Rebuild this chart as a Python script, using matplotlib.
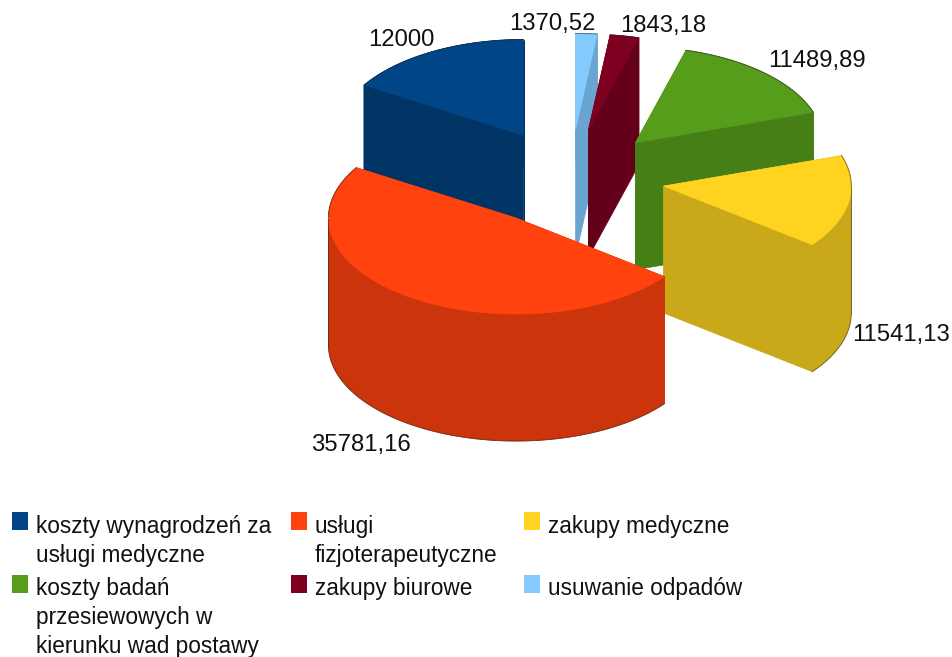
import numpy as np
import matplotlib
matplotlib.use("Agg")
import matplotlib.pyplot as plt
from matplotlib.patches import Polygon, Rectangle

plt.rcParams["font.family"] = ["Liberation Sans", "DejaVu Sans"]

names = ["koszty wynagrodzeń za\nusługi medyczne", "usługi\nfizjoterapeutyczne", "zakupy medyczne",
         "koszty badań\nprzesiewowych w\nkierunku wad postawy", "zakupy biurowe", "usuwanie odpadów"]
values = [12000, 35781.16, 11541.13, 11489.89, 1843.18, 1370.52]
labels = ["12000", "35781,16", "11541,13", "11489,89", "1843,18", "1370,52"]
top_colors = ["#004586", "#ff420e", "#ffd320", "#579d1c", "#7e0021", "#83caff"]
wall_colors = ["#003465", "#cc340b", "#c9a91a", "#477f17", "#65001a", "#6aa4d0"]

# projection of the tilted pie, in pixels
cx, cy = 570, 178
rx, ry = 187.5, 96
depth = 127
explode = 0.507
edge = dict(color="#222222", lw=0.7, alpha=0.5)


def draw_slice(ax, a1, a2, top, wall):
    mid = (a1 + a2) / 2
    arc = np.linspace(a1, a2, 120)
    x0 = cx + rx * explode * np.cos(mid)
    y0 = cy - ry * explode * np.sin(mid)
    tx = x0 + rx * np.cos(arc)
    ty = y0 - ry * np.sin(arc)
    # radial walls
    for k in [0, -1]:
        ax.add_patch(Polygon(np.c_[[x0, tx[k], tx[k], x0], [y0, ty[k], ty[k] + depth, y0 + depth]],
                             fc=wall, ec=wall, lw=0.5))
    # rim, split where the arc turns back so each polygon stays simple
    turns = np.where(np.diff(np.sign(np.diff(tx))) != 0)[0] + 1
    for part in np.split(np.arange(len(arc)), turns):
        part = np.r_[part, min(part[-1] + 1, len(arc) - 1)]
        ax.add_patch(Polygon(np.c_[np.r_[tx[part], tx[part][::-1]], np.r_[ty[part], ty[part][::-1] + depth]],
                             fc=wall, ec=wall, lw=0.5))
    ax.add_patch(Polygon(np.c_[np.r_[x0, tx], np.r_[y0, ty]], fc=top, ec=top, lw=0.5))
    # dark outline on the outside of the rim
    back = np.sin(arc) > 0
    ax.plot(tx[back], ty[back], **edge)
    front = np.sin(arc) < 0
    ax.plot(tx[front], ty[front] + depth, **edge)
    for t in turns:
        ax.plot([tx[t], tx[t]], [ty[t], ty[t] + depth], **edge)


fig = plt.figure(figsize=(9.52, 6.57), dpi=100)
ax = fig.add_axes([0, 0, 1, 1])
ax.set_xlim(0, 952)
ax.set_ylim(657, 0)
ax.axis("off")

# slices go counter-clockwise from 12 o'clock
sweep = np.array(values) / sum(values) * 2 * np.pi
starts = np.pi / 2 + np.r_[0, np.cumsum(sweep)[:-1]]
mids = starts + sweep / 2
# paint far slices first
for i in np.argsort(-np.sin(mids)):
    draw_slice(ax, starts[i], starts[i] + sweep[i], top_colors[i], wall_colors[i])

label_pos = [(401, 46), (361, 451), (901, 341), (817, 67), (663, 32), (552, 30)]
for lab, (x, y) in zip(labels, label_pos):
    ax.text(x, y, lab, fontsize=17.2, ha="center", va="baseline", color="#111111")

legend_pos = [(12, 512, 533), (291, 512, 533), (524, 512, 533),
              (12, 575, 595), (291, 575, 595), (524, 575, 595)]
for name, col, (x, y, base) in zip(names, top_colors, legend_pos):
    ax.add_patch(Rectangle((x, y), 16, 18, fc=col, ec="none"))
    for k, line in enumerate(name.split("\n")):
        ax.text(x + 24, base + k * 29, line, fontsize=16.3, ha="left", va="baseline", color="#111111")

fig.savefig("out.png", dpi=100)
